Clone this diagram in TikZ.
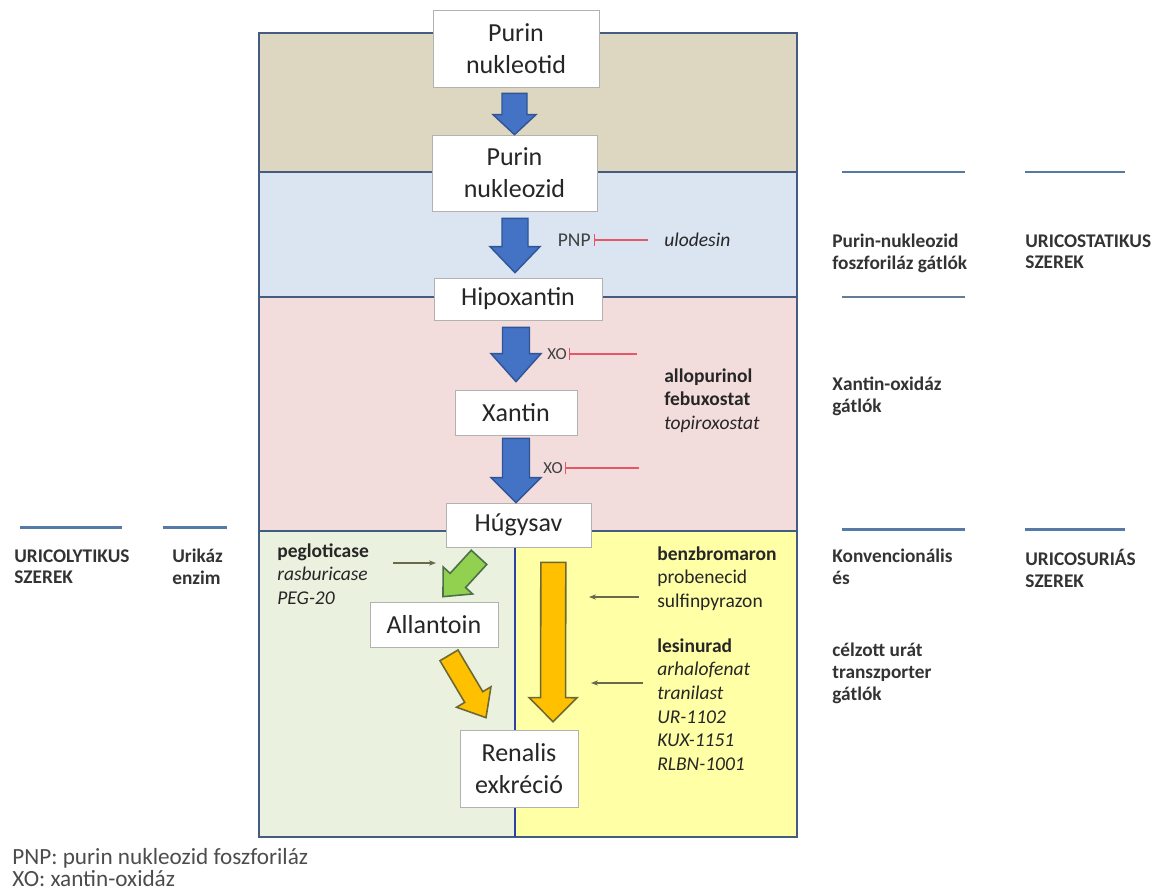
\documentclass[tikz,border=0pt]{standalone}
\usepackage{fontspec}
\setmainfont{Carlito}
\usetikzlibrary{positioning, arrows.meta, calc}
\usepackage{xcolor}
\definecolor{tanband}{RGB}{221,214,192}
\definecolor{blueband}{RGB}{219,228,241}
\definecolor{pinkband}{RGB}{242,220,220}
\definecolor{greenband}{RGB}{235,241,223}
\definecolor{yellowband}{RGB}{255,255,165}
\definecolor{framecol}{RGB}{68,92,128}
\definecolor{flowblue}{RGB}{68,114,196}
\definecolor{flowblueedge}{RGB}{47,85,151}
\definecolor{greenarr}{RGB}{146,208,80}
\definecolor{orangearr}{RGB}{255,192,0}
\definecolor{arredge}{RGB}{110,105,50}
\definecolor{inhibred}{RGB}{228,88,104}
\definecolor{barblue}{RGB}{84,122,165}
\definecolor{hintgray}{RGB}{105,105,75}
\tikzset{
  stage/.style={draw=black!30, fill=white, text=black!85, align=center, inner sep=0pt, font=\fontsize{14.8}{18.2}\selectfont},
  drug/.style={anchor=north west, align=left, inner sep=0pt, text=black!85, font=\fontsize{11.1}{13.5}\selectfont},
  sidelabel/.style={anchor=north west, align=left, inner sep=0pt, text=black!80, font=\bfseries\fontsize{11}{12.5}\selectfont},
  inhib/.style={inhibred, line width=0.7pt, -{Bar[width=7pt]}},
  hint/.style={hintgray, line width=0.6pt, -{Stealth[length=4pt, width=3pt]}},
  bandline/.style={barblue, line width=1.7pt},
  flowarrow/.style={fill=flowblue, draw=flowblueedge, line width=0.8pt},
  greenflow/.style={fill=greenarr, draw=arredge!70!teal, line width=0.9pt},
  orangeflow/.style={fill=orangearr, draw=arredge, line width=0.9pt},
}
% block arrow: style, from, to, half shaft, half head, head length
\newcommand{\blockarrow}[6]{%
  \coordinate (ba-h) at ($(#3)!#6!(#2)$);
  \draw[#1] ($(#2)!#4!90:(#3)$) -- ($(ba-h)!#4!90:(#3)$) -- ($(ba-h)!#5!90:(#3)$) -- (#3)
    -- ($(ba-h)!#5!-90:(#3)$) -- ($(ba-h)!#4!-90:(#3)$) -- ($(#2)!#4!-90:(#3)$) -- cycle;
}

\begin{document}
\begin{tikzpicture}[x=0.02cm, y=-0.02cm]
  \useasboundingbox (0,0) rectangle (1157,893);

  \fill[tanband]    (259,33)  rectangle (797,172);
  \fill[blueband]   (259,172) rectangle (797,297);
  \fill[pinkband]   (259,297) rectangle (797,531);
  \fill[greenband]  (259,531) rectangle (515,837);
  \fill[yellowband] (515,531) rectangle (797,837);
  \draw[framecol, line width=1.5pt] (259,33) rectangle (797,837);
  \foreach \y in {172,297,531}
    \draw[framecol, line width=1.5pt] (259,\y) -- (797,\y);
  \draw[framecol!70!blue, line width=1.4pt] (515,531) -- (515,837);

  \node[stage, minimum width=3.32cm, minimum height=1.54cm] (nukleotid) at (516,48.5) {Purin\\nukleotid};
  \node[stage, minimum width=3.30cm, minimum height=1.52cm] (nukleozid) at (514.5,173) {Purin\\nukleozid};
  \node[stage, minimum width=3.36cm, minimum height=0.84cm] (hipoxantin) at (518,299) {Hipoxantin};
  \node[stage, minimum width=2.44cm, minimum height=0.90cm] (xantin) at (516,412.5) {Xantin};
  \node[stage, minimum width=2.90cm, minimum height=0.88cm] (hugysav) at (518.5,525) {Húgysav};
  \node[stage, minimum width=2.56cm, minimum height=0.90cm] (allantoin) at (434,624.5) {Allantoin};
  \node[stage, minimum width=2.36cm, minimum height=1.54cm] (renalis) at (519,768.5) {Renalis\\exkréció};

  \blockarrow{flowarrow}{$(nukleotid.south)+(-1.5,6)$}{nukleozid.north}{0.25cm}{0.43cm}{0.40cm}
  \blockarrow{flowarrow}{$(nukleozid.south)+(0.5,7)$}{$(hipoxantin.north)+(-3,-5)$}{0.26cm}{0.50cm}{0.52cm}
  \blockarrow{flowarrow}{$(hipoxantin.south)+(-2,7)$}{$(xantin.north)+(0,-8)$}{0.27cm}{0.50cm}{0.56cm}
  \blockarrow{flowarrow}{$(xantin.south)+(0,3)$}{$(hugysav.north)+(-2.5,0)$}{0.27cm}{0.50cm}{0.50cm}
  \blockarrow{greenflow}{$(hugysav.south)+(-39.5,10)$}{$(allantoin.north)+(9,-5)$}{0.21cm}{0.40cm}{0.44cm}
  \blockarrow{orangeflow}{$(allantoin.south)+(15,8)$}{$(renalis.north)+(-33,-12)$}{0.21cm}{0.40cm}{0.48cm}
  \blockarrow{orangeflow}{$(hugysav.south east)+(-38,15)$}{$(renalis.north)+(34,-8)$}{0.25cm}{0.48cm}{0.48cm}

  \node[drug, anchor=east, text=black!75] (pnp) at (591,240) {PNP};
  \node[drug, anchor=west, font=\itshape\fontsize{11.1}{13.5}\selectfont] (ulodesin) at (664,240) {ulodesin};
  \draw[inhib] ($(ulodesin.west)+(-16,0)$) -- ($(pnp.east)+(3,0)$);

  \node[drug, anchor=center, text=black!75, font=\fontsize{9.6}{12}\selectfont] (xo1) at (557,354) {XO};
  \coordinate (xo1end) at (637,354);
  \draw[inhib] (xo1end) -- ($(xo1.east)+(2,0)$);
  \node[drug, anchor=center, text=black!75, font=\fontsize{9.6}{12}\selectfont] (xo2) at (553,468) {XO};
  \coordinate (xo2end) at (639,468);
  \draw[inhib] (xo2end) -- ($(xo2.east)+(2,0)$);

  \node[drug] (xoinhib) at (664,368) {\textbf{allopurinol}\\\textbf{febuxostat}\\\textit{topiroxostat}};
  \node[drug] (urikaz) at (277,543) {\textbf{pegloticase}\\\textit{rasburicase}\\\textit{PEG-20}};
  \node[drug] (konvdrug) at (657,546) {\textbf{benzbromaron}\\probenecid\\sulfinpyrazon};
  \node[drug] (urat) at (657,638) {\textbf{lesinurad}\\\textit{arhalofenat}\\\textit{tranilast}\\\textit{UR-1102}\\\textit{KUX-1151}\\\textit{RLBN-1001}};

  \coordinate (pegfrom) at (393,563);
  \coordinate (pegto) at (436,563);
  \draw[hint] (pegfrom) -- (pegto);
  \coordinate (konvfrom) at (639,597);
  \coordinate (konvto) at (589,597);
  \draw[hint] (konvfrom) -- (konvto);
  \coordinate (uratfrom) at (643,683);
  \coordinate (uratto) at (591,683);
  \draw[hint] (uratfrom) -- (uratto);

  % side classification
  \draw[bandline] (842,172) -- (965,172);
  \draw[bandline] (1025,172) -- (1125,172);
  \draw[bandline, barblue!60!gray, line width=1.2pt] (842,297) -- (965,297);
  \draw[bandline] (842,529) -- (965,529);
  \draw[bandline] (1025,529) -- (1125,529);
  \draw[bandline] (20,527) -- (122,527);
  \draw[bandline] (163,527) -- (227,527);

  \node[sidelabel] (pnpgroup) at (832,234) {Purin-nukleozid\\foszforiláz gátlók};
  \node[sidelabel] (uricostat) at (1025,234) {URICOSTATIKUS\\SZEREK};
  \node[sidelabel] (xogroup) at (832,377) {Xantin-oxidáz\\gátlók};
  \node[sidelabel] (konv) at (832,549) {Konvencionális\\és};
  \node[sidelabel] (uricosur) at (1025,549) {URICOSURIÁS\\SZEREK};
  \node[sidelabel] (celzott) at (832,643) {célzott urát\\transzporter\\gátlók};
  \node[sidelabel] (uricolyt) at (14,549) {URICOLYTIKUS\\SZEREK};
  \node[sidelabel] (urikazlabel) at (172,549) {Urikáz\\enzim};

  \node[drug, text=black!70, font=\fontsize{13.2}{12.8}\selectfont] (legend) at (12,848) {PNP: purin nukleozid foszforiláz\\XO: xantin-oxidáz};
\end{tikzpicture}
\end{document}
